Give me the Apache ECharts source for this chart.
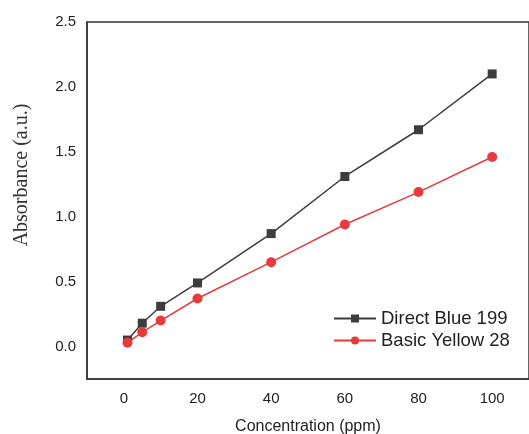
<!DOCTYPE html>
<html>
<head>
<meta charset="utf-8">
<script src="https://cdn.jsdelivr.net/npm/echarts@6/dist/echarts.min.js"></script>
<style>
  html, body { margin: 0; padding: 0; background: #fff; }
  #chart { width: 529px; height: 434px; }
</style>
</head>
<body>
<div id="chart"></div>
<script>
// concentration (ppm)
var conc = [1, 5, 10, 20, 40, 60, 80, 100]
// absorbance values
var directBlue = [0.05, 0.18, 0.31, 0.49, 0.87, 1.31, 1.67, 2.10]
var basicYellow = [0.03, 0.11, 0.20, 0.37, 0.65, 0.94, 1.19, 1.46]
var seriesNames = ['Direct Blue 199', 'Basic Yellow 28']

function pairs(xs, ys) {
  return xs.map(function (x, i) { return [x, ys[i]] })
}

var chart = echarts.init(document.getElementById('chart'))
chart.setOption({
  animation: false,
  grid: {
    left: 87, right: 0, top: 22, bottom: 55,
    outerBoundsMode: 'none',
    containLabel: false,
    show: true, borderColor: '#333', borderWidth: 1.5
  },
  legend: {
    orient: 'vertical',
    left: 333,
    top: 309,
    padding: 0,
    itemWidth: 42,
    itemHeight: 10,
    itemGap: 3,
    textStyle: { fontFamily: 'Liberation Sans, Arial', fontSize: 18.5, color: '#222' },
    data: seriesNames
  },
  xAxis: {
    type: 'value',
    min: -10, max: 110, interval: 10,
    name: 'Concentration (ppm)',
    nameLocation: 'middle',
    nameGap: 40,
    nameTextStyle: { fontFamily: 'Liberation Sans, Arial', fontSize: 16, color: '#222' },
    axisLine: { onZero: false, lineStyle: { color: '#333', width: 1.5 } },
    axisTick: { show: false },
    splitLine: { show: false },
    axisLabel: {
      margin: 12,
      fontFamily: 'Liberation Sans, Arial', fontSize: 15, color: '#222',
      formatter: function (v) {
        return (v >= 0 && v <= 100 && v % 20 === 0) ? String(v) : ''
      }
    }
  },
  yAxis: {
    type: 'value',
    min: -0.25, max: 2.5, interval: 0.25,
    axisLine: { show: true, onZero: false, lineStyle: { color: '#333', width: 1.5 } },
    axisTick: { show: false },
    splitLine: { show: false },
    axisLabel: {
      margin: 11,
      fontFamily: 'Liberation Sans, Arial', fontSize: 15, color: '#222',
      formatter: function (v) {
        var d = v * 2
        return Math.abs(d - Math.round(d)) < 1e-6 ? v.toFixed(1) : ''
      }
    }
  },
  graphic: [{
    type: 'text',
    x: 22, y: 175,
    rotation: Math.PI / 2,
    style: {
      text: 'Absorbance (a.u.)',
      font: '20px "Liberation Serif", "Times New Roman", serif',
      fill: '#333',
      align: 'center',
      verticalAlign: 'middle'
    }
  }],
  series: [
    {
      name: seriesNames[0],
      type: 'line',
      data: pairs(conc, directBlue),
      symbol: 'rect',
      symbolSize: 9,
      color: '#3d3d3d',
      lineStyle: { width: 1.5, color: '#3d3d3d' },
      itemStyle: { color: '#3d3d3d' }
    },
    {
      name: seriesNames[1],
      type: 'line',
      data: pairs(conc, basicYellow),
      symbol: 'circle',
      symbolSize: 10,
      color: '#e63a3d',
      lineStyle: { width: 1.5, color: '#e63a3d' },
      itemStyle: { color: '#e63a3d' }
    }
  ]
})
</script>
</body>
</html>
